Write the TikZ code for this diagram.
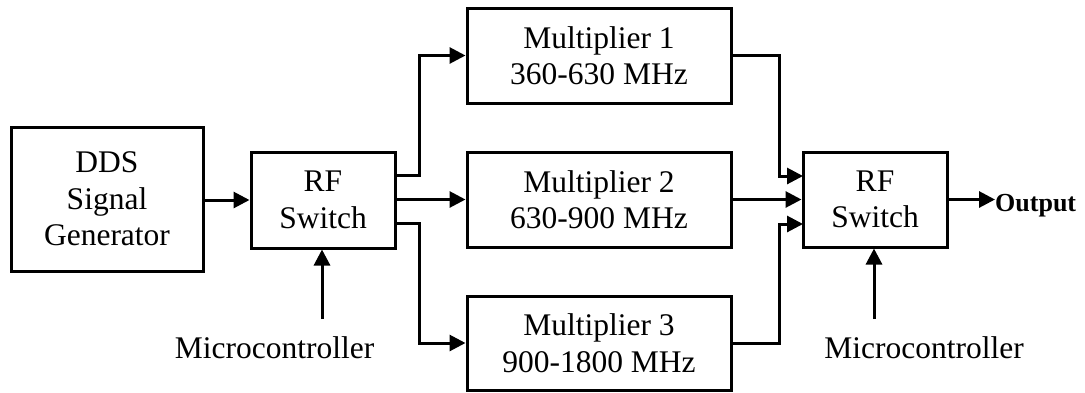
\documentclass[tikz,border=0pt]{standalone}
\usepackage{fontspec}
\setmainfont{Liberation Serif}
\usetikzlibrary{arrows.meta}
\begin{document}
\begin{tikzpicture}[x=1pt,y=-1pt,
  box/.style={draw,line width=3pt,align=center,inner sep=0pt,font=\fontsize{31.5}{36.5}\selectfont},
  arr/.style={line width=3pt,-{Triangle[length=16pt,width=16pt]}},
  lbl/.style={inner sep=0pt,font=\fontsize{31.5}{36.5}\selectfont}]
\useasboundingbox (0,0) rectangle (1085,392);
\node[box,minimum width=192pt,minimum height=144pt] (dds) at (107,199) {DDS\\Signal\\Generator};
\node[box,minimum width=144pt,minimum height=96pt] (sw1) at (323,200) {RF\\Switch};
\node[box,minimum width=264pt,minimum height=95pt] (m1) at (599,55.5) {Multiplier 1\\360-630 MHz};
\node[box,minimum width=264pt,minimum height=95pt] (m2) at (599,199.5) {Multiplier 2\\630-900 MHz};
\node[box,minimum width=264pt,minimum height=94pt] (m3) at (599,343) {Multiplier 3\\900-1800 MHz};
\node[box,minimum width=144pt,minimum height=95pt] (sw2) at (875,199.5) {RF\\Switch};
\node[lbl,anchor=base west,font=\fontsize{26}{30}\selectfont\bfseries] (out) at (995,211) {Output};
\node[lbl,anchor=base] (mc1) at (274.5,358) {Microcontroller};
\node[lbl,anchor=base] (mc2) at (924,358) {Microcontroller};
\coordinate (c1) at (322,319);
\coordinate (c2) at (874,319);
\coordinate (s1a) at (395,175);
\coordinate (s1c) at (395,223);
\coordinate (s2a) at (803,176);
\coordinate (s2c) at (803,224);
\draw[arr] (dds.east |- sw1.west) -- (sw1.west);
\draw[arr] (s1a) -- (419,175) -- (419,55.5) -- (m1.west);
\draw[arr] (sw1.east |- m2.west) -- (m2.west);
\draw[arr] (s1c) -- (419,223) -- (419,343) -- (m3.west);
\draw[arr] (m1.east) -- (779,55.5) -- (779,176) -- (s2a);
\draw[arr] (m2.east) -- (sw2.west);
\draw[arr] (m3.east) -- (779,343) -- (779,224) -- (s2c);
\draw[arr] (sw2.east) -- (out.west |- sw2.east);
\draw[arr] (c1) -- (c1 |- sw1.south);
\draw[arr] (c2) -- (c2 |- sw2.south);
\end{tikzpicture}
\end{document}
